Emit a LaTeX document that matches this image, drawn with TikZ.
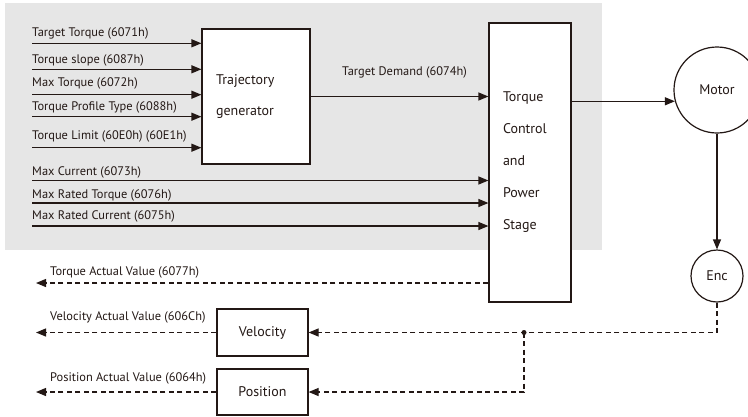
\documentclass[tikz,border=0pt]{standalone}
\usepackage{fontspec}
\setmainfont{PT Sans}
\usetikzlibrary{arrows.meta}
\definecolor{ink}{HTML}{231815}
\definecolor{panel}{HTML}{E6E6E6}
\begin{document}
\begin{tikzpicture}[x=1pt,y=-1pt,
  every node/.style={text=ink},
  lblfont/.style={font=\fontsize{12.4}{14}\selectfont},
  boxfont/.style={font=\fontsize{14}{16}\selectfont},
  flow/.style={draw=ink, line width=1.2pt, -{Triangle[length=10pt,width=8pt]}},
  fb/.style={flow, dash pattern=on 5pt off 3.5pt},
  block/.style={draw=ink, line width=1.2pt, fill=white, inner sep=0pt},
  lbl/.style={lblfont, anchor=west, inner sep=0pt},
  disc/.style={circle, draw=ink, line width=1.2pt, fill=white, inner sep=0pt, boxfont}
]
\useasboundingbox (0,0) rectangle (748,416);
\fill[panel] (5,3) rectangle (602,250);

% main blocks
\node[block, minimum width=108pt, minimum height=135pt, text width=80pt, align=left,
      font=\fontsize{14}{31}\selectfont] (traj) at (256,96.5) {Trajectory\\generator};
\node[block, minimum width=82pt, minimum height=279pt, text width=54pt, align=left,
      font=\fontsize{14}{32}\selectfont] (tcp) at (530,162.5) {Torque\\Control\\and\\Power\\Stage};
\node[disc, minimum size=86pt] (motor) at (717,90) {Motor};
\node[disc, minimum size=52pt] (enc) at (717,276) {Enc};
\node[block, minimum width=91pt, minimum height=47pt, boxfont] (vel) at (262.5,332.5) {Velocity};
\node[block, minimum width=91pt, minimum height=46pt, boxfont] (pos) at (262.5,392) {Position};

% inputs of the trajectory generator
\coordinate (s1) at (32,43.3);
\coordinate (s2) at (32,69.3);
\coordinate (s3) at (32,94.7);
\coordinate (s4) at (32,116.7);
\coordinate (s5) at (32,147.7);
\node[lbl] (l1) at (32,33.3) {Target Torque (6071h)};
\node[lbl] (l2) at (32,60.3) {Torque slope (6087h)};
\node[lbl] (l3) at (32,83.3) {Max Torque (6072h)};
\node[lbl] (l4) at (32,107.8) {Torque Profile Type (6088h)};
\node[lbl] (l5) at (32,136.7) {Torque Limit (60E0h) (60E1h)};
\foreach \s in {s1,s2,s3,s4,s5} \draw[flow] (\s) -- (\s -| traj.west);

% limits fed to the power stage
\coordinate (c1) at (32,180.5);
\coordinate (c2) at (32,203);
\coordinate (c3) at (32,226);
\node[lbl] (m1) at (32,172.8) {Max Current (6073h)};
\node[lbl] (m2) at (32,195) {Max Rated Torque (6076h)};
\node[lbl] (m3) at (32,216.5) {Max Rated Current (6075h)};
\foreach \c in {c1,c2,c3} \draw[flow] (\c) -- (\c -| tcp.west);

% demand path
\draw[flow] (traj.east) -- (traj.east -| tcp.west);
\node[lblfont, inner sep=0pt] (dem) at (404.5,72) {Target Demand (6074h)};
\draw[flow] (tcp.east |- motor.195) -- (motor.195);
\draw[flow] (motor) -- (enc);

% feedback
\coordinate (j) at (524,332.5);
\draw[fb] (enc.south) |- (vel.east);
\draw[fb] (j) |- (pos.east);
\fill[ink] (j) circle (2.5pt);

% actual values
\coordinate (tout) at (36,283);
\draw[fb] (tcp.west |- tout) -- (tout);
\draw[fb] (vel.west) -- (vel.west -| tout);
\draw[fb] (pos.west) -- (pos.west -| tout);
\node[lbl] (a1) at (50,272) {Torque Actual Value (6077h)};
\node[lbl] (a2) at (50,317) {Velocity Actual Value (606Ch)};
\node[lbl] (a3) at (50,378) {Position Actual Value (6064h)};
\end{tikzpicture}
\end{document}
